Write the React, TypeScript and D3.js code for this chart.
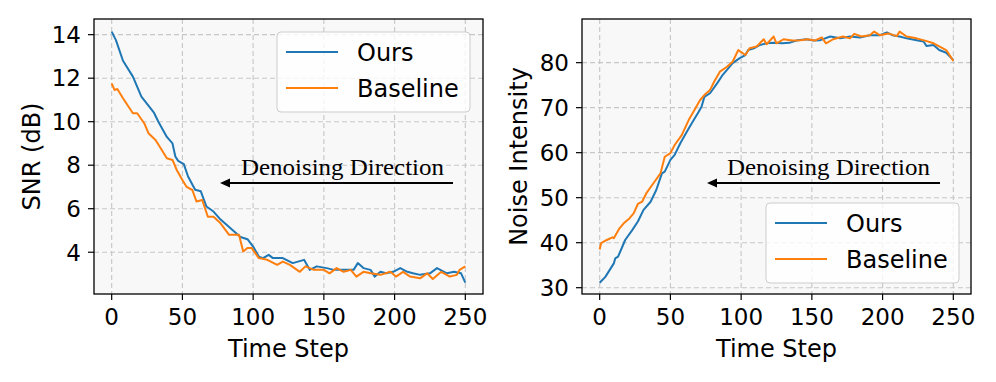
import React from "react";
import * as d3 from "d3";

// ---------- DATA ----------
const snrOursT = [0, 3, 8, 15, 21, 30, 33, 39, 43, 45, 47, 51, 54, 59, 63, 67, 72, 77, 84, 91, 96, 100, 104, 107, 111, 114, 121, 128, 136, 140, 145, 152, 157, 164, 171, 174, 178, 183, 186, 190, 194, 199, 204, 209, 213, 218, 225, 230, 237, 242, 247, 250];
const snrOursV = [14.14, 13.75, 12.8, 12.07, 11.15, 10.4, 10.0, 9.3, 9.0, 8.4, 8.2, 8.05, 7.48, 6.87, 6.8, 6.1, 5.87, 5.5, 5.1, 4.7, 4.6, 4.26, 3.8, 3.73, 3.88, 3.73, 3.73, 3.5, 3.65, 3.19, 3.35, 3.27, 3.19, 3.19, 3.19, 3.5, 3.27, 3.19, 2.88, 3.1, 3.03, 3.1, 3.27, 3.1, 3.03, 2.96, 3.03, 3.27, 3.03, 3.1, 3.03, 2.6];

const snrBaseT = [0, 2, 4, 8, 15, 18, 23, 26, 31, 34, 39, 43, 46, 50, 53, 57, 60, 64, 68, 72, 77, 83, 86, 90, 93, 96, 99, 104, 110, 117, 121, 126, 133, 137, 143, 150, 154, 159, 164, 169, 173, 178, 183, 190, 197, 201, 206, 211, 218, 223, 227, 233, 239, 244, 246, 250];
const snrBaseV = [11.76, 11.46, 11.5, 11.08, 10.39, 10.39, 9.93, 9.47, 9.16, 8.85, 8.32, 8.24, 7.78, 7.32, 7.0, 6.86, 6.33, 6.4, 5.63, 5.63, 5.33, 4.8, 4.8, 4.8, 4.03, 4.19, 4.19, 3.73, 3.65, 3.42, 3.57, 3.42, 3.1, 3.35, 3.19, 3.19, 3.03, 3.27, 3.1, 3.19, 2.88, 3.1, 3.03, 2.96, 3.1, 2.88, 3.1, 2.88, 2.8, 3.03, 2.77, 3.1, 2.88, 2.96, 3.19, 3.35];

const noiseOursT = [0, 4, 7, 10, 11, 13, 16, 18, 23, 27, 31, 36, 40, 44, 46, 50, 53, 57, 61, 65, 70, 72, 74, 78, 83, 87, 90, 94, 99, 103, 105, 109, 113, 118, 123, 129, 134, 139, 146, 151, 156, 163, 170, 177, 184, 191, 198, 203, 207, 212, 217, 224, 229, 231, 236, 240, 245, 250];
const noiseOursV = [31.1, 32.4, 33.9, 35.4, 36.5, 36.9, 39.1, 40.6, 42.8, 44.7, 47.3, 49.1, 51.7, 55.4, 55.8, 58.4, 59.5, 62.1, 64.3, 66.5, 69.1, 70.2, 72.4, 73.2, 75.4, 77.3, 78.4, 79.9, 81.0, 81.7, 82.8, 83.2, 83.9, 84.3, 84.4, 84.3, 84.4, 84.9, 85.2, 84.9, 85.0, 85.8, 85.4, 85.8, 85.6, 86.1, 86.1, 86.7, 86.1, 85.8, 85.4, 85.0, 84.7, 83.7, 83.9, 82.8, 82.2, 80.6];

const noiseBaseT = [0, 1, 5, 9, 10, 12, 14, 17, 21, 24, 27, 30, 33, 38, 43, 46, 50, 53, 58, 63, 67, 71, 74, 78, 81, 85, 90, 94, 98, 103, 106, 111, 116, 118, 123, 125, 130, 136, 142, 147, 152, 157, 160, 165, 172, 177, 180, 185, 191, 194, 198, 204, 210, 212, 217, 224, 230, 236, 240, 245, 250];
const noiseBaseV = [38.5, 39.9, 40.6, 41.2, 41.0, 42.1, 43.2, 44.3, 45.4, 46.5, 48.6, 49.1, 51.0, 53.2, 55.4, 59.1, 59.9, 61.7, 63.9, 67.3, 69.5, 71.7, 72.8, 73.9, 75.8, 78.0, 79.1, 80.2, 82.8, 81.7, 83.2, 83.6, 85.2, 84.1, 85.8, 84.3, 85.2, 84.9, 85.0, 85.2, 84.9, 85.6, 84.3, 85.2, 85.8, 85.4, 86.4, 85.8, 86.1, 86.9, 86.1, 86.5, 85.9, 86.9, 85.8, 85.4, 84.9, 84.3, 83.6, 82.8, 80.4];

const xTicks = [0, 50, 100, 150, 200, 250];
const snrTicks = [4, 6, 8, 10, 12, 14];
const noiseTicks = [30, 40, 50, 60, 70, 80];
const seriesNames = ["Ours", "Baseline"];
const colors = ["#1f77b4", "#ff7f0e"];

// ---------- CHART ----------
type PanelProps = {
  left: number;
  right: number;
  top: number;
  bottom: number;
  yDomain: [number, number];
  yTicks: number[];
  yLabel: string;
  yLabelX: number;
  series: { t: number[]; v: number[] }[];
  legend: { x: number; y: number };
  annot: { textX: number; arrowFrom: number; arrowTo: number };
};

const FONT = "DejaVu Sans, sans-serif";

function Panel(p: PanelProps) {
  const x = d3.scaleLinear().domain([-12.5, 262.5]).range([p.left, p.right]);
  const y = d3.scaleLinear().domain(p.yDomain).range([p.bottom, p.top]);
  const line = d3
    .line<[number, number]>()
    .x((d) => x(d[0]))
    .y((d) => y(d[1]));
  const id = p.yLabel.replace(/\W/g, "");
  return (
    <g>
      <defs>
        <clipPath id={"clip" + id}>
          <rect x={p.left} y={p.top} width={p.right - p.left} height={p.bottom - p.top} />
        </clipPath>
      </defs>
      <rect x={p.left} y={p.top} width={p.right - p.left} height={p.bottom - p.top} fill="#f8f8f8" />
      {xTicks.map((t) => (
        <line key={"gx" + t} x1={x(t)} x2={x(t)} y1={p.top} y2={p.bottom} stroke="#c6c6c6" strokeWidth={1.1} strokeDasharray="5,3" />
      ))}
      {p.yTicks.map((t) => (
        <line key={"gy" + t} x1={p.left} x2={p.right} y1={y(t)} y2={y(t)} stroke="#c6c6c6" strokeWidth={1.1} strokeDasharray="5,3" />
      ))}
      <g clipPath={`url(#clip${id})`}>
        {p.series.map((s, i) => (
          <path
            key={i}
            d={line(s.t.map((t, k) => [t, s.v[k]] as [number, number])) || ""}
            fill="none"
            stroke={colors[i]}
            strokeWidth={2}
            strokeLinejoin="round"
          />
        ))}
      </g>
      {/* annotation */}
      <text
        x={p.annot.textX}
        y={175}
        fontFamily="Liberation Serif, Times New Roman, serif"
        fontSize={23}
        textLength={203}
        lengthAdjust="spacingAndGlyphs"
        fill="#000"
      >
        Denoising Direction
      </text>
      <line x1={p.annot.arrowFrom} x2={p.annot.arrowTo + 8} y1={183} y2={183} stroke="#000" strokeWidth={2} />
      <path
        d={`M${p.annot.arrowTo},183 L${p.annot.arrowTo + 10},178.5 L${p.annot.arrowTo + 10},187.5 Z`}
        fill="#000"
      />
      {/* legend */}
      <rect x={p.legend.x} y={p.legend.y} width={193} height={80} rx={4} fill="#ffffff" fillOpacity={0.8} stroke="#cccccc" strokeWidth={1} />
      {seriesNames.map((n, i) => (
        <g key={n}>
          <line x1={p.legend.x + 9} x2={p.legend.x + 61} y1={p.legend.y + 20 + i * 36} y2={p.legend.y + 20 + i * 36} stroke={colors[i]} strokeWidth={2} />
          <text x={p.legend.x + 80} y={p.legend.y + 29 + i * 36} fontFamily={FONT} fontSize={24} fill="#000">
            {n}
          </text>
        </g>
      ))}
      {/* frame */}
      <rect x={p.left} y={p.top} width={p.right - p.left} height={p.bottom - p.top} fill="none" stroke="#000" strokeWidth={1.3} />
      {/* x ticks */}
      {xTicks.map((t) => (
        <g key={"xt" + t}>
          <line x1={x(t)} x2={x(t)} y1={p.bottom} y2={p.bottom + 6} stroke="#000" strokeWidth={1.2} />
          <text x={x(t)} y={325} textAnchor="middle" fontFamily={FONT} fontSize={23} fill="#000">
            {t}
          </text>
        </g>
      ))}
      {p.yTicks.map((t) => (
        <g key={"yt" + t}>
          <line x1={p.left - 6} x2={p.left} y1={y(t)} y2={y(t)} stroke="#000" strokeWidth={1.2} />
          <text x={p.left - 13} y={y(t)} dy="0.36em" textAnchor="end" fontFamily={FONT} fontSize={23} fill="#000">
            {t}
          </text>
        </g>
      ))}
      <text x={(p.left + p.right) / 2} y={357} textAnchor="middle" fontFamily={FONT} fontSize={24} fill="#000">
        Time Step
      </text>
      <text
        transform={`translate(${p.yLabelX},${(p.top + p.bottom) / 2}) rotate(-90)`}
        textAnchor="middle"
        dy="0.36em"
        fontFamily={FONT}
        fontSize={24}
        fill="#000"
      >
        {p.yLabel}
      </text>
    </g>
  );
}

export default function App() {
  return (
    <svg width={996} height={382} style={{ position: "absolute", left: 0, top: 0, background: "#fff" }}>
      <Panel
        left={94}
        right={483}
        top={19}
        bottom={294}
        yDomain={[2.08, 14.72]}
        yTicks={snrTicks}
        yLabel="SNR (dB)"
        yLabelX={31}
        series={[
          { t: snrOursT, v: snrOursV },
          { t: snrBaseT, v: snrBaseV },
        ]}
        legend={{ x: 277, y: 32 }}
        annot={{ textX: 241, arrowFrom: 453, arrowTo: 220 }}
      />
      <Panel
        left={582}
        right={971}
        top={19}
        bottom={294}
        yDomain={[28.6, 89.7]}
        yTicks={noiseTicks}
        yLabel="Noise Intensity"
        yLabelX={518}
        series={[
          { t: noiseOursT, v: noiseOursV },
          { t: noiseBaseT, v: noiseBaseV },
        ]}
        legend={{ x: 766, y: 203 }}
        annot={{ textX: 727, arrowFrom: 940, arrowTo: 707 }}
      />
    </svg>
  );
}
